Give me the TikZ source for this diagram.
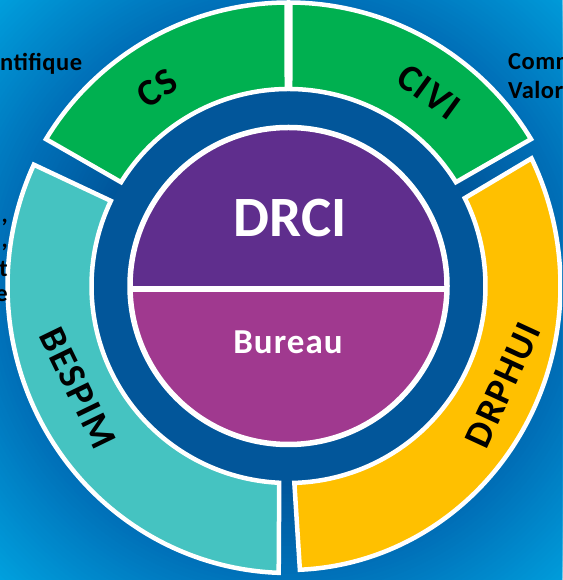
\documentclass[tikz,border=0pt]{standalone}
\usepackage{fontspec}
\setmainfont{Carlito}
\newfontfamily\segfont{Carlito}[LetterSpace=4]
\newfontfamily\burfont{Carlito}[LetterSpace=3]
\newfontfamily\outfont{Carlito}[LetterSpace=2]
\definecolor{bgB}{HTML}{00559A}
\definecolor{bgC}{HTML}{0070B8}
\definecolor{bgD}{HTML}{00A3E0}
\definecolor{ringblue}{HTML}{02569A}
\definecolor{csgreen}{HTML}{00B050}
\definecolor{dryellow}{HTML}{FFC000}
\definecolor{bteal}{HTML}{45C3C1}
\definecolor{drcipurple}{HTML}{5F2E8D}
\definecolor{burmag}{HTML}{A0398F}
\begin{document}
\begin{tikzpicture}[x=1pt,y=1pt,
  seg/.style={draw=white, line width=4.5pt, line join=miter},
  lbl/.style={font=\segfont\bfseries\fontsize{38}{42}\selectfont, text=black, inner sep=0pt},
  outtxt/.style={font=\outfont\bfseries\fontsize{24.5}{28}\selectfont, text=black, inner sep=0pt},
  fragtxt/.style={font=\bfseries\fontsize{24}{28}\selectfont, text=black, inner sep=0pt}]
\useasboundingbox (0,0) rectangle (562,580);
\clip (0,0) rectangle (562,580);
\fill[bgD] (0,0) rectangle (562,580);
\foreach \r in {420,416,...,196}{
  \pgfmathsetmacro\pa{max(0,min(100,(420-\r)/1.3))}
  \pgfmathsetmacro\pb{max(0,min(100,(290-\r)/0.94))}
  \fill[bgB!\pb!bgC!\pa!bgD] (288.5,294) circle (\r);
}
\begin{scope}[shift={(288.5,294)}]
  \fill[ringblue] (0,0) circle (196);
  % CS
  \path[seg, fill=csgreen] (90.4:283.5) arc[start angle=90.4, end angle=148.8, radius=283.5]
     -- (148.2:197) arc[start angle=148.2, end angle=90.5, radius=197] -- cycle;
  % CIVI
  \path[seg, fill=csgreen] (31.2:283.5) arc[start angle=31.2, end angle=89.6, radius=283.5]
     -- (89.5:197) arc[start angle=89.5, end angle=31.8, radius=197] -- cycle;
  % DRPHUI
  \path[seg, fill=dryellow] ({272*cos(-87.6)},{284*sin(-87.6)}) arc[start angle=-87.6, end angle=26.7, x radius=272, y radius=284]
     -- (26.5:197) arc[start angle=26.5, end angle=-88.3, radius=197] -- cycle;
  % BESPIM
  \path[seg, fill=bteal] ({281*cos(155)},{287*sin(155)}) arc[start angle=155, end angle=268, x radius=281, y radius=287]
     -- (267.3:197) arc[start angle=267.3, end angle=154.4, radius=197] -- cycle;
  % inner circle
  \begin{scope}
    \clip (-170,-3.5) rectangle (170,170);
    \fill[drcipurple] (0,0) circle (158.5);
  \end{scope}
  \begin{scope}
    \clip (-170,-3.5) rectangle (170,-170);
    \fill[burmag] (0,0) circle (158.5);
  \end{scope}
  \draw[white, line width=5.5pt] (0,0) circle (158.5);
  \draw[white, line width=6pt] (-158.5,-3.5) -- (158.5,-3.5);
  \node[font=\bfseries\fontsize{57}{60}\selectfont, text=white, inner sep=0pt] (drci) at (1.5,67.5) {DRCI};
  \node[font=\burfont\bfseries\fontsize{35}{38}\selectfont, text=white, inner sep=0pt] (bureau) at (-0.5,-56) {Bureau};
\end{scope}
\node[lbl, rotate=33.6] (cs) at (157,492) {CS};
\node[lbl, rotate=-35.9] (civi) at (429,488) {CIVI};
\node[lbl, rotate=-64.1] (bespim) at (78,192) {BESPIM};
\node[lbl, rotate=65.2] (drphui) at (503,195) {DRPHUI};
\node[outtxt, anchor=base west] (sci) at (0,509) {ntifique};
\node[outtxt, anchor=base west] (comm) at (508,510) {Comm};
\node[outtxt, anchor=base west] (valor) at (508,481) {Valor};
\node[fragtxt, anchor=base east] (f1) at (8,357) {,};
\node[fragtxt, anchor=base east] (f2) at (8,332) {,};
\node[fragtxt, anchor=base east] (f3) at (8,303) {t};
\node[fragtxt, anchor=base east] (f4) at (8,278) {e};
\end{tikzpicture}
\end{document}
